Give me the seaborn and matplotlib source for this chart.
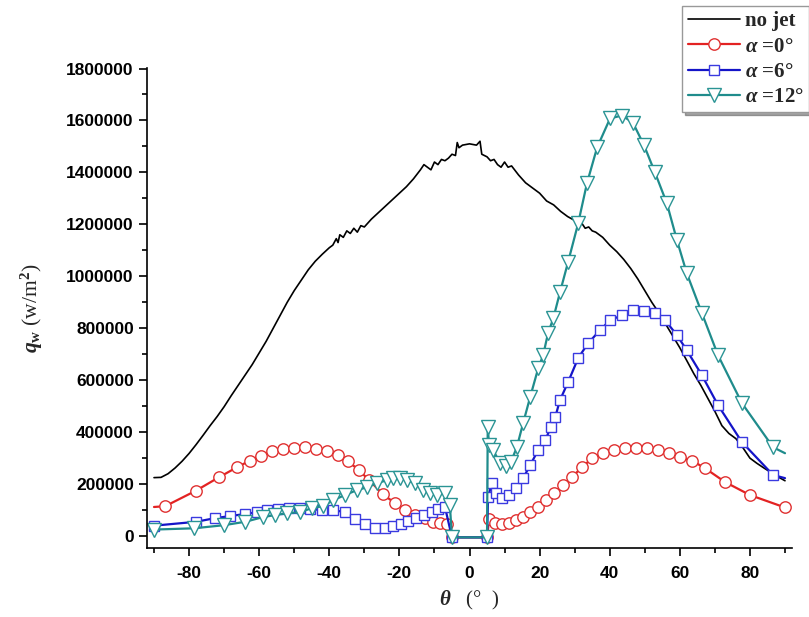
import numpy as np
import pandas as pd
import matplotlib
matplotlib.use("Agg")
import matplotlib.pyplot as plt
from matplotlib.ticker import MultipleLocator
import seaborn as sns

# heat flux along the wall
nojet_theta = [-90, -88, -86, -84, -82, -80, -78, -76, -74, -72, -70, -68, -66, -64, -62, -60,
               -58, -56, -54, -52, -50, -48, -46, -44, -42, -40, -39, -38, -37.5, -37, -36, -35,
               -34, -33, -32, -31, -30, -28, -26, -24, -22, -20, -18, -16, -14, -13, -12, -11,
               -10, -9, -8, -7, -6, -5, -4, -3.5, -3, -2, 0, 2, 3, 3.5, 5, 6, 7, 8, 9, 10, 11,
               12, 14, 16, 18, 20, 22, 24, 26, 28, 30, 31, 32, 33, 34, 35, 36, 38, 40, 42, 44,
               46, 48, 50, 52, 54, 56, 58, 60, 62, 64, 66, 68, 70, 72, 74, 76, 78, 80, 82, 84,
               86, 88, 90]
nojet_q = [225000, 226000, 240000, 262000, 288000, 318000, 352000, 388000, 425000, 460000,
           498000, 540000, 580000, 620000, 660000, 705000, 750000, 800000, 850000, 900000,
           945000, 985000, 1025000, 1058000, 1085000, 1110000, 1120000, 1145000, 1130000,
           1160000, 1150000, 1175000, 1165000, 1185000, 1170000, 1195000, 1190000, 1220000,
           1245000, 1270000, 1295000, 1320000, 1345000, 1375000, 1410000, 1430000, 1420000,
           1410000, 1440000, 1430000, 1450000, 1445000, 1455000, 1470000, 1465000, 1515000,
           1495000, 1505000, 1510000, 1505000, 1520000, 1470000, 1460000, 1445000, 1450000,
           1430000, 1420000, 1440000, 1420000, 1425000, 1390000, 1360000, 1340000, 1320000,
           1290000, 1275000, 1250000, 1230000, 1215000, 1195000, 1205000, 1185000, 1190000,
           1175000, 1170000, 1150000, 1120000, 1095000, 1065000, 1030000, 990000, 945000,
           900000, 860000, 815000, 770000, 725000, 675000, 625000, 580000, 530000, 480000,
           425000, 395000, 375000, 340000, 300000, 280000, 262000, 245000, 228000, 213000]

a0_theta = [-90, -86.8, -78, -71.4, -66.3, -62.7, -59.5, -56.3, -53.2, -50.2, -47, -43.8,
            -40.6, -37.6, -34.6, -31.6, -28.6, -24.8, -21.3, -18.4, -15.5, -12.7, -10.4,
            -8.4, -6.4, -5, 5, 5.6, 7.4, 9.3, 11.2, 13.2, 15.2, 17.4, 19.5, 21.8, 24.2, 26.6,
            29.2, 32.1, 35, 38.1, 41.2, 44.4, 47.5, 50.6, 53.8, 56.9, 60, 63.5, 67.1, 72.9,
            80, 90]
a0_q = [112000, 115000, 175000, 227000, 265000, 290000, 310000, 327000, 335000, 338000,
        342000, 335000, 327000, 311000, 288000, 254000, 215000, 162000, 127000, 100000,
        81000, 69000, 54000, 50000, 45000, -5000, -5000, 65000, 52000, 45000, 50000, 60000,
        75000, 92000, 112000, 138000, 165000, 196000, 227000, 265000, 300000, 319000,
        331000, 338000, 340000, 338000, 331000, 319000, 304000, 290000, 262000, 208000,
        158000, 110000]

a6_theta = [-90, -78, -72.6, -68.3, -64, -60.6, -57.8, -54.6, -51.5, -48.3, -45.5, -42,
            -38.9, -35.5, -32.6, -29.8, -27, -24.2, -21.8, -19.6, -17.5, -15.2, -13, -10.8,
            -9, -7, -5, 5, 5.3, 6.4, 7.6, 9.2, 11.3, 13.3, 15.3, 17.3, 19.6, 21.6, 23.2,
            24.5, 25.8, 28.1, 31, 33.8, 37.2, 40.1, 43.5, 46.6, 49.8, 52.9, 55.8, 59.2, 62,
            66.3, 70.9, 77.7, 86.6, 90]
a6_q = [40000, 55000, 69000, 77000, 85000, 92000, 100000, 105000, 108000, 108000, 104000,
        100000, 100000, 92000, 65000, 45000, 32000, 30000, 38000, 48000, 58000, 68000,
        80000, 92000, 105000, 112000, -5000, -5000, 150000, 205000, 165000, 146000, 158000,
        185000, 223000, 273000, 331000, 369000, 419000, 460000, 523000, 592000, 685000,
        742000, 792000, 831000, 850000, 869000, 865000, 858000, 831000, 773000, 715000,
        619000, 504000, 362000, 235000, 223000]

a12_theta = [-90, -78.5, -70, -64, -58.9, -55.5, -52, -48.3, -44.9, -41.8, -38.9, -35.5,
             -32.1, -29.2, -26.4, -23.5, -21.8, -19.8, -17.8, -15.5, -13.2, -11.3, -9.3, -7,
             -5.6, -5, 5, 5.2, 5.6, 6.8, 8.7, 10.5, 11.8, 13.5, 15.3, 17.3, 19.6, 21, 22.4,
             23.9, 25.8, 28.1, 31, 33.5, 36.4, 40.1, 43.5, 46.6, 49.8, 52.9, 56.3, 59.2, 62,
             66.3, 70.9, 77.7, 86.6, 90]
a12_q = [25000, 30000, 42000, 55000, 73000, 81000, 88000, 92000, 108000, 115000, 138000,
         158000, 177000, 188000, 204000, 215000, 223000, 223000, 215000, 204000, 177000,
         165000, 158000, 165000, 119000, -5000, -5000, 419000, 350000, 330000, 281000,
         270000, 285000, 342000, 435000, 535000, 646000, 696000, 781000, 838000, 938000,
         1054000, 1204000, 1358000, 1496000, 1608000, 1619000, 1592000, 1504000, 1400000,
         1281000, 1138000, 1011000, 858000, 696000, 512000, 342000, 319000]

sns.set_style("ticks")
plt.rcParams["font.family"] = ["Liberation Serif", "DejaVu Serif"]
plt.rcParams["font.weight"] = "bold"
plt.rcParams["axes.unicode_minus"] = False
plt.rcParams["mathtext.fontset"] = "custom"
plt.rcParams["mathtext.rm"] = "Liberation Serif:bold"
plt.rcParams["mathtext.bf"] = "Liberation Serif:bold"
plt.rcParams["mathtext.it"] = "Liberation Serif:italic:bold"

fig, ax = plt.subplots(figsize=(8.09, 6.17), dpi=100)
fig.subplots_adjust(left=0.1817, right=0.979, bottom=0.1118, top=0.8898)

sns.lineplot(x=nojet_theta, y=nojet_q, ax=ax, color="black", lw=1.2,
             sort=False, estimator=None, label="no jet")
sns.lineplot(x=a0_theta, y=a0_q, ax=ax, color="#e32222", lw=1.6, sort=False, estimator=None,
             marker="o", markersize=8.2, markerfacecolor="white", markeredgecolor="#e03030",
             markeredgewidth=1.0, markevery=list(range(1, len(a0_theta))),
             label=r"$\alpha$ =0°")
sns.lineplot(x=a6_theta, y=a6_q, ax=ax, color="#1414c8", lw=1.6, sort=False, estimator=None,
             marker="s", markersize=7.2, markerfacecolor="white", markeredgecolor="#3a3ae0",
             markeredgewidth=1.0, markevery=list(range(0, len(a6_theta) - 1)),
             label=r"$\alpha$ =6°")
sns.lineplot(x=a12_theta, y=a12_q, ax=ax, color="#1f8c8c", lw=1.6, sort=False, estimator=None,
             marker="v", markersize=9.5, markerfacecolor="white", markeredgecolor="#2a9494",
             markeredgewidth=1.0, markevery=list(range(0, len(a12_theta) - 1)),
             label=r"$\alpha$ =12°")

ax.set_xlim(-92, 92)
ax.set_ylim(-46000, 1802000)
ax.xaxis.set_major_locator(MultipleLocator(20))
ax.xaxis.set_minor_locator(MultipleLocator(10))
ax.yaxis.set_major_locator(MultipleLocator(200000))
ax.yaxis.set_minor_locator(MultipleLocator(100000))
ax.ticklabel_format(axis="y", style="plain")
ax.tick_params(which="major", direction="out", length=6, width=1.2, colors="black")
ax.tick_params(which="minor", direction="out", length=3.5, width=1.2, colors="black")
ax.tick_params(axis="x", which="major", pad=7)
for lab in ax.get_xticklabels() + ax.get_yticklabels():
    lab.set_fontfamily("Liberation Sans")
    lab.set_fontweight("bold")
    lab.set_fontsize(12.5)

sns.despine(ax=ax)
for s in ["left", "bottom"]:
    ax.spines[s].set_linewidth(1.2)
    ax.spines[s].set_color("black")

ax.set_xlabel(r"$\theta$   (°  )", fontsize=15, labelpad=6)
ax.set_ylabel(r"$q_{\rm w}$ (w/m$^{\rm 2}$)", fontsize=15.5, labelpad=15)

leg = ax.legend(loc="upper right", bbox_to_anchor=(1.0, 0.99), bbox_transform=fig.transFigure,
                prop={"family": "Liberation Serif", "weight": "bold", "size": 15},
                frameon=True, fancybox=False, shadow=True, framealpha=1,
                edgecolor="#999999", handlelength=2.5, handletextpad=0.25,
                labelspacing=0.25, borderpad=0.25, borderaxespad=0)
leg.get_frame().set_linewidth(1.0)

plt.savefig("out.png", dpi=100)
